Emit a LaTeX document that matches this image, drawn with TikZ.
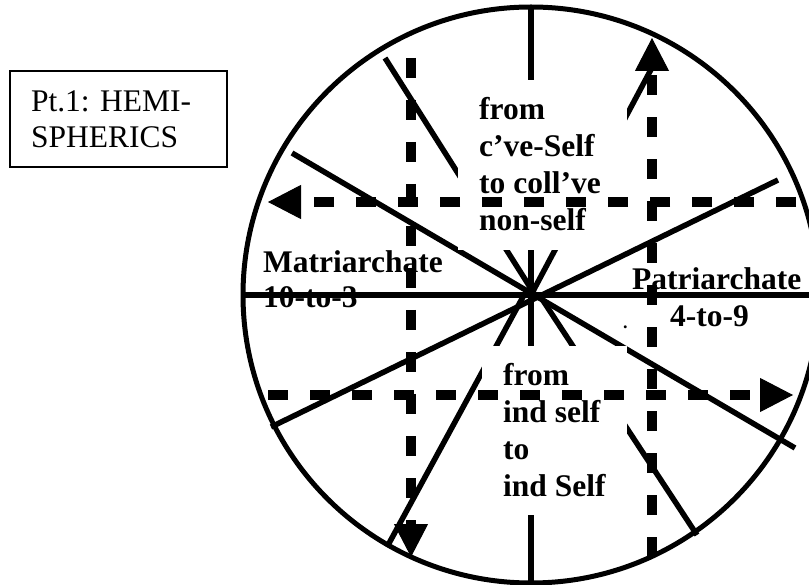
\documentclass[tikz,border=0pt]{standalone}
\usepackage{fontspec}
\setmainfont{Liberation Serif}
\usetikzlibrary{arrows.meta}
\frenchspacing

\begin{document}
\begin{tikzpicture}[x=1pt, y=-1pt]

% --- Styles ---
\tikzset{
    rim/.style={draw=black, line width=5pt},
    spoke/.style={draw=black, line width=5.5pt},
    mask/.style={fill=white},
    flow/.style={
        draw=black,
        line width=10pt,
        dash pattern=on 20pt off 22pt,
        -{Triangle[length=33pt, width=34pt, line width=1pt]}
    },
    boldlabel/.style={font=\fontsize{31.5}{36.8}\selectfont\bfseries, inner sep=0pt, anchor=base west},
    titlebox/.style={
        draw=black, line width=1.6pt,
        font=\fontsize{31.5}{36}\selectfont,
        align=left, text width=175pt,
        inner xsep=21pt, inner ysep=0pt,
        minimum height=96pt
    }
}

\useasboundingbox (0,0) rectangle (809,585);

% --- Wiel ---
\coordinate (c) at (531,295);
\draw[rim] (c) circle (288pt);

% Spaken (12 uur met de klok mee)
\draw[spoke] (531,7) -- (531,582);    % 12 - 6
\draw[spoke] (243,295) -- (820,295);  % 9 - 3
\draw[spoke] (292,153) -- (795,448);  % 10 - 4
\draw[spoke] (778,180) -- (271,427);  % 2 - 8
\draw[spoke] (c) -- (655,62);         % 1
\draw[spoke] (535,295) -- (385,58);   % 11
\draw[spoke] (540,296) -- (697,535);  % 5
\draw[spoke] (524,295) -- (387,547);  % 7

% Witte tekstvlakken boven en onder
\fill[mask] (458,80) rectangle (627,250);
\fill[mask] (482,346) rectangle (627,515);

% --- Teksten ---
\foreach \txt [count=\i from 0] in {from, c’ve-Self, to coll’ve, non-self}
    \node[boldlabel] (top\i) at (479, {120+36.7*\i}) {\txt};

\foreach \txt [count=\i from 0] in {from, ind self, to, ind Self}
    \node[boldlabel] (bot\i) at (503, {385+37*\i}) {\txt};

\node[boldlabel] (matri) at (263,273) {Matriarchate};
\node[boldlabel] (matrinum) at (263,308) {10-to-3};
\node[boldlabel] (patri) at (632,290) {Patriarchate};
\node[boldlabel] (patrinum) at (670,327) {4-to-9};
\node[boldlabel, font=\fontsize{18}{20}\selectfont\bfseries] (dot) at (623,329) {.};

\node[titlebox] (title) at (118.5,119) {Pt.1: HEMI-\\SPHERICS};

% --- Gestippelde pijlen ---
\coordinate (eastA) at (796,202);
\coordinate (westA) at (268,202);
\coordinate (westB) at (268,395);
\coordinate (eastB) at (793,395);
\coordinate (northL) at (411,58);
\coordinate (southL) at (411,557);
\coordinate (southR) at (652,557);
\coordinate (northR) at (652,38);

\draw[flow] (eastA) -- (westA);
\draw[flow] (westB) -- (eastB);
\draw[flow] (northL) -- (southL);
\draw[flow] (southR) -- (northR);

\end{tikzpicture}
\end{document}
